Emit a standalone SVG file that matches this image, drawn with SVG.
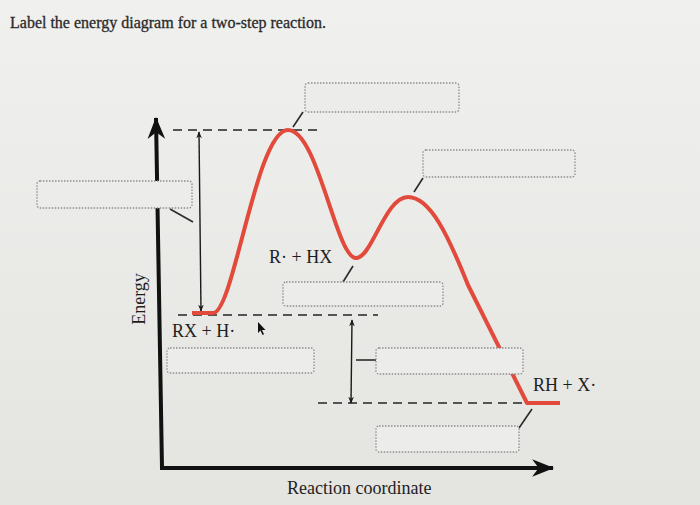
<svg xmlns="http://www.w3.org/2000/svg" width="700" height="505" viewBox="0 0 700 505">
<defs>
<linearGradient id="bg" x1="0" y1="0" x2="0" y2="1">
<stop offset="0" stop-color="#f0f0ee"/>
<stop offset="1" stop-color="#e4e4e1"/>
</linearGradient>
<marker id="ah" viewBox="0 0 10 10" refX="9" refY="5" markerWidth="7" markerHeight="9" orient="auto-start-reverse" markerUnits="userSpaceOnUse">
<path d="M0,1 L10,5 L0,9 L3,5 Z" fill="#1a1a1a"/>
</marker>
<marker id="big" viewBox="0 0 20 20" refX="19" refY="10" markerWidth="28" markerHeight="22" orient="auto" markerUnits="userSpaceOnUse">
<path d="M0,2 L20,10 L0,18 L6,10 Z" fill="#111"/>
</marker>
<style>
.box{fill:#ececea;stroke:#8d8d8d;stroke-width:1.3;stroke-dasharray:1.5 1.5}
.lbl{font-family:"Liberation Serif","Times New Roman",serif;font-size:18px;fill:#1e1e1e}
.dash{stroke:#555;stroke-width:2;stroke-dasharray:9 6;fill:none}
.lead{stroke:#2a2a2a;stroke-width:1.6;fill:none}
.thin{stroke:#1a1a1a;stroke-width:1.4;fill:none}
.axis{stroke:#111;stroke-width:4;fill:none}
</style>
</defs>
<rect width="700" height="505" fill="url(#bg)"/>
<text x="10" y="28" style="font-family:'Liberation Serif','Times New Roman',serif;font-size:16px;fill:#2a2a2a;stroke:#2a2a2a;stroke-width:0.3">Label the energy diagram for a two-step reaction.</text>

<g id="axes">
<line class="axis" x1="162" y1="468" x2="156" y2="118" marker-end="url(#big)"/>
<line class="axis" x1="160" y1="468" x2="553" y2="468" marker-end="url(#big)"/>
<text class="lbl" transform="translate(145,299) rotate(-90)" text-anchor="middle">Energy</text>
<text class="lbl" x="287" y="494">Reaction coordinate</text>
</g>

<g id="guides">
<line class="dash" x1="173" y1="130" x2="322" y2="130"/>
<line class="dash" x1="178" y1="315" x2="378" y2="315"/>
<line class="dash" x1="318" y1="403" x2="522" y2="403"/>
</g>

<g id="curve">
<path d="M192,313 L213,313 C234,313 256,130 288,130 C318,130 336,258 356,258 C372,258 385,197 408,197 C430,197 448,235 468,285 L527,403 L560,403" fill="none" stroke="#e24a3b" stroke-width="4" stroke-linejoin="round"/>
</g>

<g id="connectors">
<line class="thin" x1="199" y1="132" x2="201" y2="311" marker-start="url(#ah)" marker-end="url(#ah)"/>
<line class="thin" x1="352" y1="320" x2="351" y2="403" marker-start="url(#ah)" marker-end="url(#ah)"/>
<line class="lead" x1="293" y1="127" x2="303" y2="112"/>
<line class="lead" x1="414" y1="192" x2="423" y2="178"/>
<line class="lead" x1="170" y1="209" x2="193" y2="222"/>
<line class="lead" x1="343" y1="282" x2="353" y2="266"/>
<line class="lead" x1="356" y1="360" x2="376" y2="360"/>
<line class="lead" x1="519" y1="428" x2="532" y2="409"/>
</g>

<g id="box-top"><rect class="box" x="305" y="83" width="154" height="29" rx="3"/></g>
<g id="box-peak2"><rect class="box" x="423" y="150" width="152" height="27" rx="3"/></g>
<g id="box-left"><rect class="box" x="37" y="181" width="155" height="27" rx="3"/></g>
<g id="box-intermediate"><rect class="box" x="283" y="282" width="160" height="24" rx="3"/></g>
<g id="box-lower-left"><rect class="box" x="167" y="348" width="147" height="25" rx="3"/></g>
<g id="box-delta"><rect class="box" x="376" y="348" width="147" height="26" rx="3"/></g>
<g id="box-bottom"><rect class="box" x="376" y="426" width="143" height="26" rx="3"/></g>

<g id="label-intermediate"><text class="lbl" x="269" y="263">R· + HX</text></g>
<g id="label-reactants"><text class="lbl" x="172" y="337">RX + H·</text></g>
<g id="label-products"><text class="lbl" x="533" y="391">RH + X·</text></g>

<g id="cursor"><path d="M258,322 L258,333 L260.5,330.5 L262.5,335 L264,334.3 L262,330 L265.5,330 Z" fill="#111"/></g>
</svg>
